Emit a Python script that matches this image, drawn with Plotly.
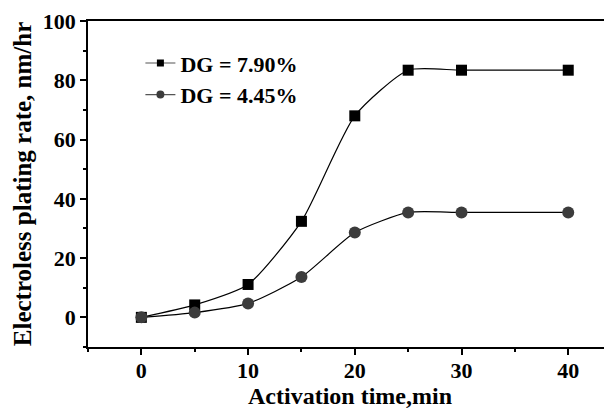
import plotly.graph_objects as go

time_min = [0, 5, 10, 15, 20, 25, 30, 40]
rate_dg790 = [0, 4.2, 11.1, 32.4, 68.0, 83.4, 83.4, 83.4]
rate_dg445 = [0, 1.6, 4.7, 13.6, 28.6, 35.4, 35.4, 35.4]
label_790 = "DG = 7.90%"
label_445 = "DG = 4.45%"

FONT = "Liberation Serif"
fig = go.Figure()

fig.add_trace(go.Scatter(x=time_min, y=rate_dg790, mode="lines+markers",
                         line=dict(color="black", width=1.2, shape="spline", smoothing=0.6),
                         marker=dict(symbol="square", size=11, color="black"),
                         showlegend=False))
fig.add_trace(go.Scatter(x=time_min, y=rate_dg445, mode="lines+markers",
                         line=dict(color="black", width=1.2, shape="spline", smoothing=0.6),
                         marker=dict(symbol="circle", size=12, color="#3c3c3c"),
                         showlegend=False))
# legend entries
fig.add_trace(go.Scatter(x=[None], y=[None], mode="lines+markers", name=label_790,
                         line=dict(color="#555", width=1.2),
                         marker=dict(symbol="square", size=7, color="black"),
                         legendgroup="a"))
fig.add_trace(go.Scatter(x=[None], y=[None], mode="lines+markers", name=label_445,
                         line=dict(color="#555", width=1.2),
                         marker=dict(symbol="circle", size=8, color="#3c3c3c"),
                         legendgroup="b"))

axis_common = dict(showgrid=False, zeroline=False, showline=True, linecolor="black",
                   linewidth=1.5, ticks="outside", tickcolor="black", tickwidth=1.5,
                   automargin=False,
                   tickfont=dict(family=FONT, size=22, color="black", weight="bold"))

fig.update_xaxes(range=[-5, 44.1], tick0=0, dtick=10, ticklen=6, mirror=True,
                 ticklabelstandoff=-3,
                 minor=dict(ticks="outside", dtick=5, ticklen=3, tickcolor="black", tickwidth=1.5),
                 title=dict(text="Activation time,min", standoff=10,
                            font=dict(family=FONT, size=24, color="black", weight="bold")),
                 **axis_common)
fig.update_yaxes(range=[-10, 100], tick0=0, dtick=20, ticklen=6,
                 minor=dict(ticks="outside", dtick=10, ticklen=3, tickcolor="black", tickwidth=1.5),
                 title=dict(text="Electroless plating rate, nm/hr", standoff=4,
                            font=dict(family=FONT, size=25, color="black", weight="bold")),
                 **axis_common)

# page body has an 8px margin, so the figure is sized to fit the 612x409 window
fig.update_layout(width=604, height=401, margin=dict(l=80, r=0, t=13, b=62),
                  plot_bgcolor="white", paper_bgcolor="white",
                  legend=dict(x=0.10, y=0.935, xanchor="left", yanchor="top",
                              bgcolor="rgba(0,0,0,0)", tracegroupgap=0,
                              font=dict(family=FONT, size=22, color="black", weight="bold")))

fig.write_html("out.html")
